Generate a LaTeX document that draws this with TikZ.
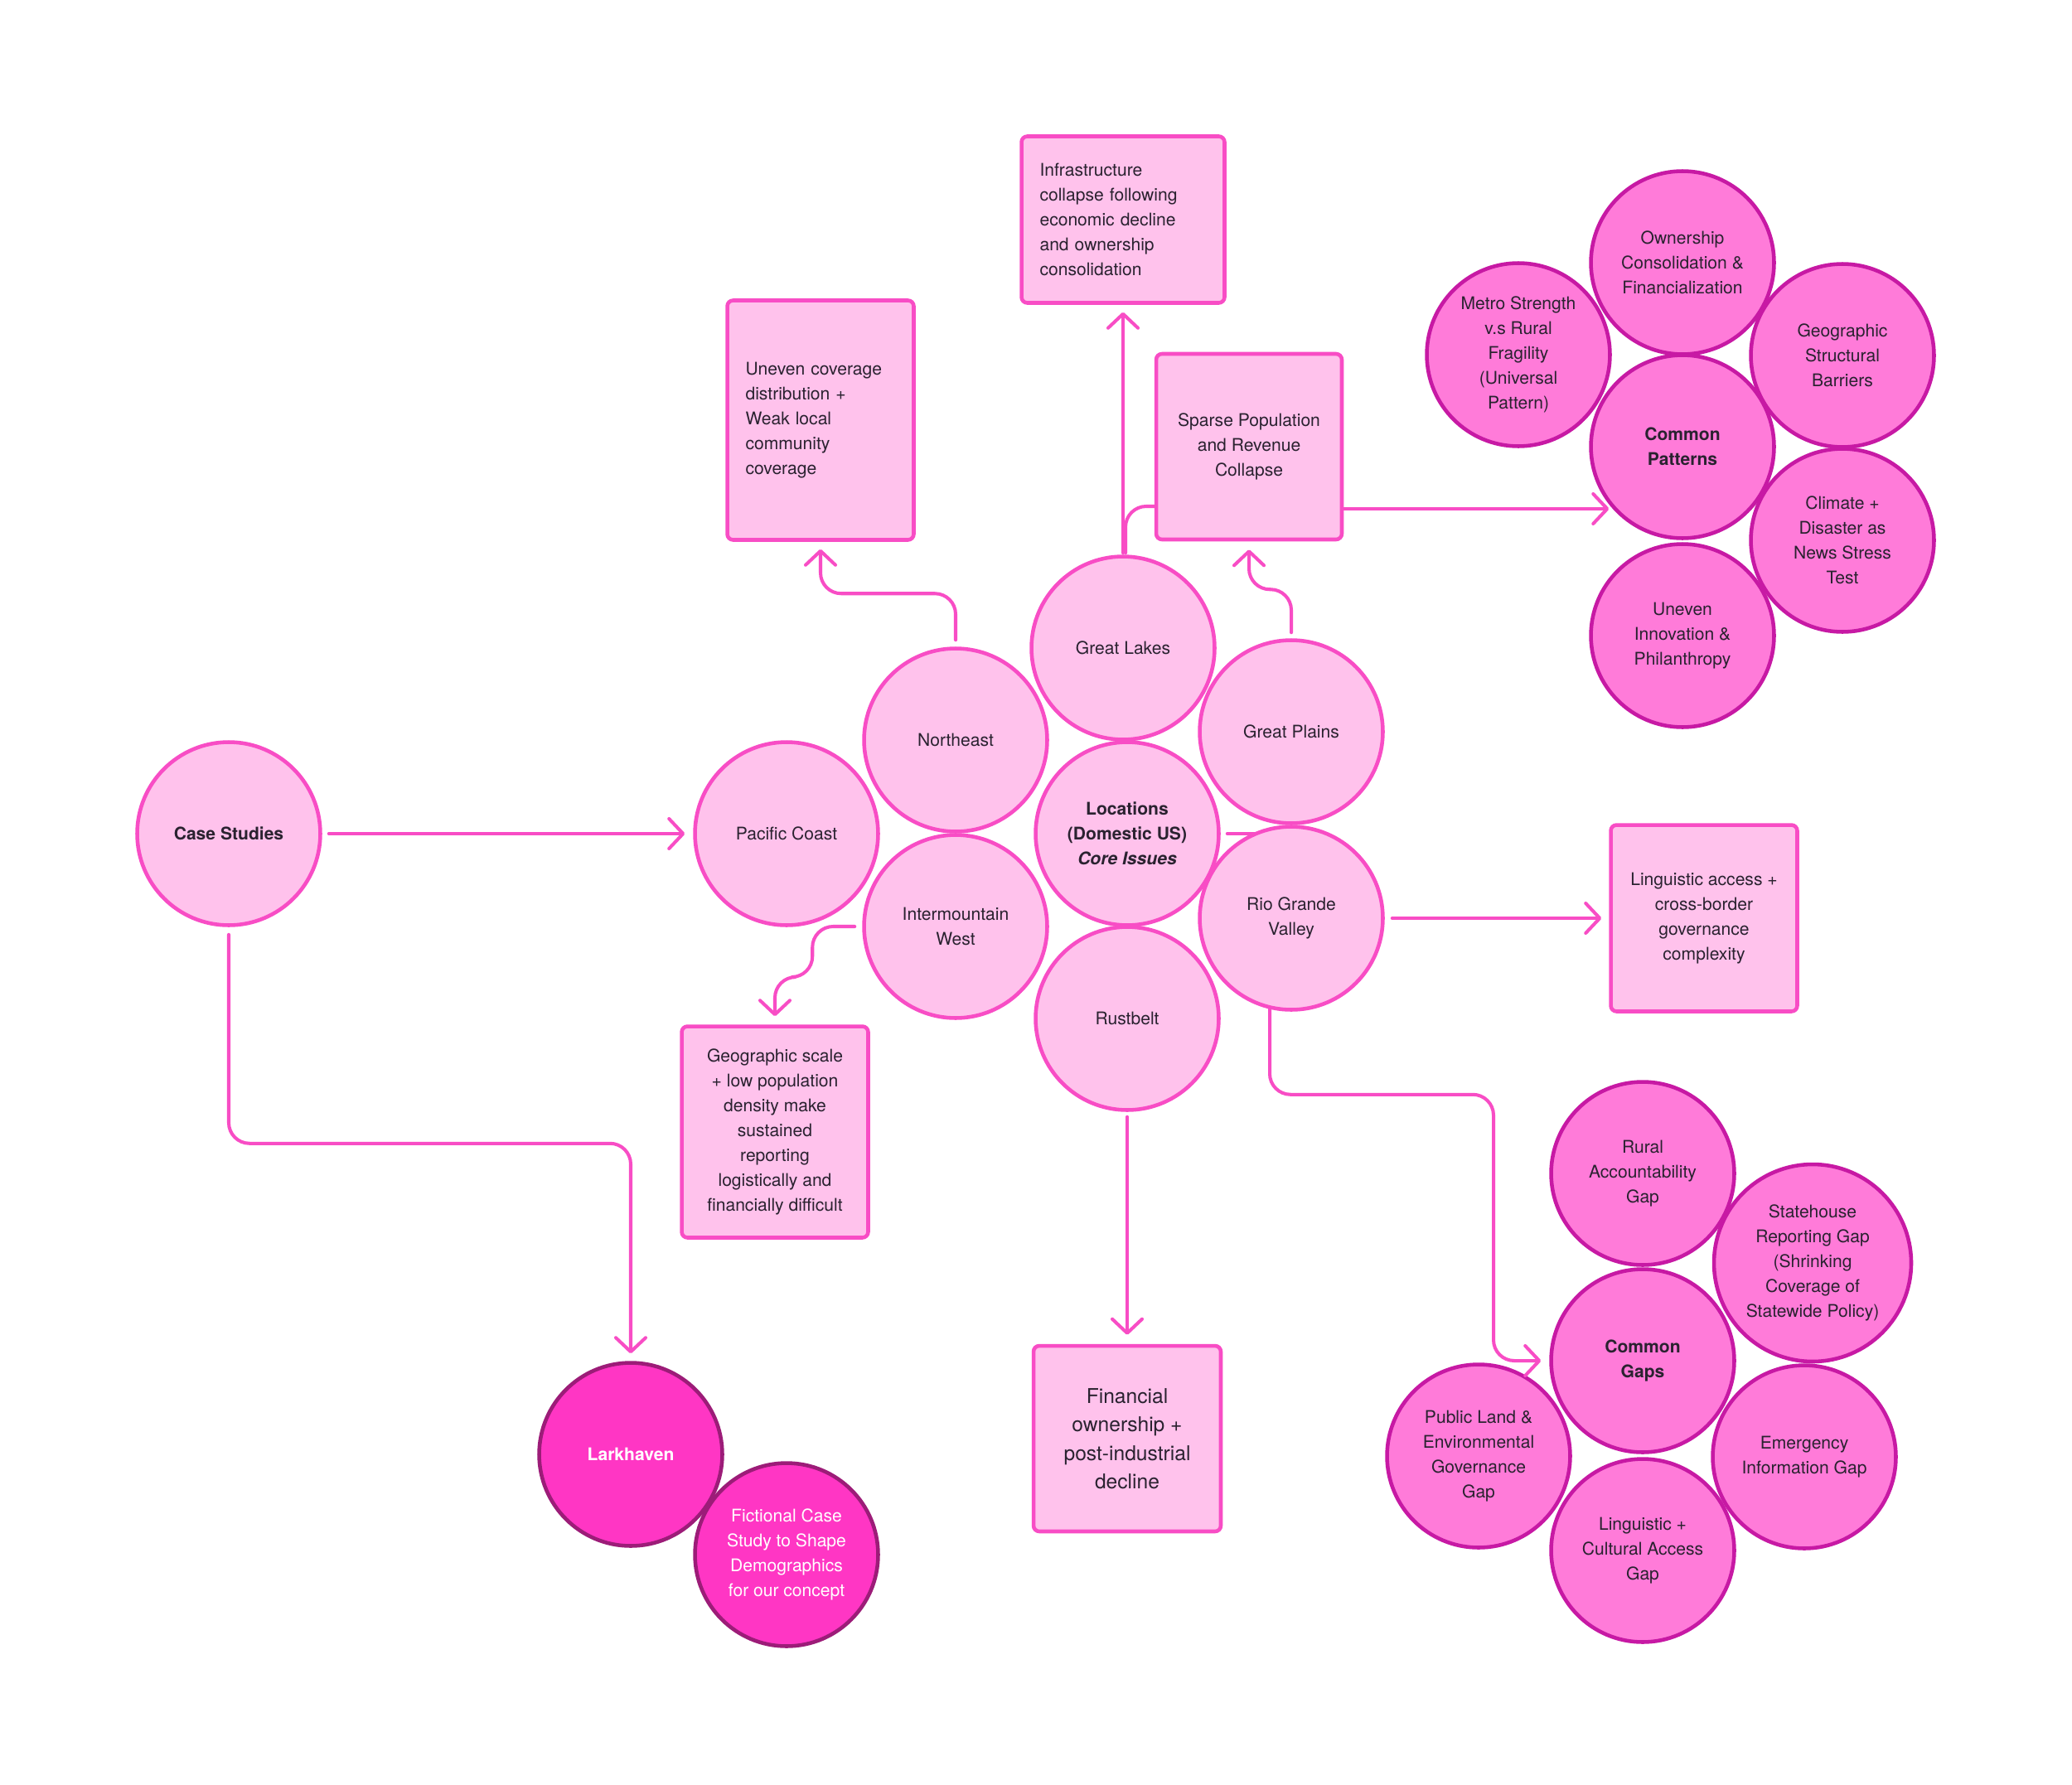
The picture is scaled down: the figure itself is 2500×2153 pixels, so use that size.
\documentclass[tikz,border=0pt]{standalone}
\usepackage{fontspec}
\setmainfont{TeX Gyre Heros}
\usepackage{tikz}
\usetikzlibrary{arrows.meta,backgrounds}
\definecolor{locfill}{HTML}{FFC2EC}
\definecolor{locline}{HTML}{F84DC5}
\definecolor{patfill}{HTML}{FF7BD9}
\definecolor{patline}{HTML}{C719A4}
\definecolor{larkfill}{HTML}{FF36C4}
\definecolor{larkline}{HTML}{9C1C78}
\definecolor{ink}{HTML}{2A2230}
\newcommand{\mapfont}{\fontsize{12}{17}\selectfont}
\newcommand{\finfont}{\fontsize{14}{19.6}\selectfont}
\tikzset{
  loccircle/.style={circle, draw=locline, fill=locfill, line width=2.6pt, minimum size=4.42cm, inner sep=0pt, align=center, text=ink, font=\mapfont},
  patcircle/.style={loccircle, draw=patline, fill=patfill},
  larkcircle/.style={loccircle, draw=larkline, fill=larkfill, text=white},
  notebox/.style={rectangle, rounded corners=0.14cm, draw=locline, fill=locfill, line width=2.6pt, inner sep=0pt, text=ink, font=\mapfont},
  link/.style={draw=locline, line width=2.3pt, line cap=round, line join=round, rounded corners=0.5cm, -{Straight Barb[length=0.34cm, width=0.72cm, line cap=round, line join=round]}},
  plainlink/.style={link, arrows=-}
}
\begin{document}
\begin{tikzpicture}[x=0.02cm, y=-0.02cm]
    \useasboundingbox (0, 0) rectangle (2500, 2153);
    \begin{pgfonlayer}{background}
      \fill [white] (0, 0) rectangle (2500, 2153);
    \end{pgfonlayer}
    \node [loccircle] (cs) at (276, 1006) {\textbf{Case Studies}};
    \node [loccircle] (pac) at (949, 1006) {Pacific Coast};
    \node [loccircle] (ne) at (1153, 893) {Northeast};
    \node [loccircle] (gl) at (1355, 782) {Great Lakes};
    \node [loccircle] (gp) at (1558, 883) {Great Plains};
    \node [loccircle] (imw) at (1153, 1118) {Intermountain\\West};
    \node [loccircle] (rust) at (1360, 1229) {Rustbelt};
    \node [loccircle] (rgv) at (1558, 1108) {Rio Grande\\Valley};
    \node [loccircle] (loc) at (1360, 1006) {\textbf{Locations}\\\textbf{(Domestic US)}\\\textbf{\textit{Core Issues}}};
    \node [notebox, minimum width=4.5cm, minimum height=5.78cm, text width=3.62cm, align=left] (unev) at (990, 507) {Uneven coverage\\distribution +\\Weak local\\community\\coverage};
    \node [notebox, minimum width=4.9cm, minimum height=4.02cm, text width=4.02cm, align=left] (infra) at (1355, 265) {Infrastructure\\collapse following\\economic decline\\and ownership\\consolidation};
    \node [notebox, minimum width=4.48cm, minimum height=4.48cm, align=center] (sparse) at (1507, 539) {Sparse Population\\and Revenue\\Collapse};
    \node [notebox, minimum width=4.5cm, minimum height=5.1cm, align=center] (geoscale) at (935, 1366) {Geographic scale\\+ low population\\density make\\sustained\\reporting\\logistically and\\financially difficult};
    \node [notebox, minimum width=4.5cm, minimum height=4.5cm, align=center] (lingacc) at (2056, 1108) {Linguistic access +\\cross-border\\governance\\complexity};
    \node [notebox, minimum width=4.52cm, minimum height=4.48cm, align=center, font=\finfont] (fin) at (1360, 1736) {Financial\\ownership +\\post-industrial\\decline};
    \node [patcircle] (own) at (2030, 317) {Ownership\\Consolidation \&\\Financialization};
    \node [patcircle] (metro) at (1832, 428) {Metro Strength\\v.s Rural\\Fragility\\(Universal\\Pattern)};
    \node [patcircle] (geo) at (2223, 429) {Geographic\\Structural\\Barriers};
    \node [patcircle] (clim) at (2223, 652) {Climate +\\Disaster as\\News Stress\\Test};
    \node [patcircle] (innov) at (2030, 767) {Uneven\\Innovation \&\\Philanthropy};
    \node [patcircle] (cp) at (2030, 539) {\textbf{Common}\\\textbf{Patterns}};
    \node [patcircle] (rural) at (1982, 1416) {Rural\\Accountability\\Gap};
    \node [patcircle, minimum size=4.76cm] (state) at (2187, 1524) {Statehouse\\Reporting Gap\\(Shrinking\\Coverage of\\Statewide Policy)};
    \node [patcircle] (publand) at (1784, 1757) {Public Land \&\\Environmental\\Governance\\Gap};
    \node [patcircle] (emerg) at (2177, 1758) {Emergency\\Information Gap};
    \node [patcircle] (lingcult) at (1982, 1871) {Linguistic +\\Cultural Access\\Gap};
    \node [patcircle] (cg) at (1982, 1642) {\textbf{Common}\\\textbf{Gaps}};
    \node [larkcircle] (lark) at (761, 1755) {\textbf{Larkhaven}};
    \node [larkcircle] (fict) at (949, 1876) {Fictional Case\\Study to Shape\\Demographics\\for our concept};
    \begin{pgfonlayer}{background}
      \draw [plainlink] ([xshift=0.16cm]loc.east) -- (rgv.center |- loc.east);
    \end{pgfonlayer}
    \draw [link] ([xshift=0.16cm]cs.east) -- ([xshift=-0.2cm]pac.west);
    \draw [link] ([yshift=-0.18cm]cs.south) -- ++(0, 252) -| ([yshift=0.18cm]lark.north);
    \draw [link] ([yshift=0.16cm]ne.north) -- ++(0, -56) -| ([yshift=-0.18cm]unev.south);
    \draw [link] ([yshift=0.04cm]gl.north) -- ([yshift=-0.18cm]infra.south);
    \draw [plainlink] ([xshift=0.06cm, yshift=0.04cm]gl.north) |- ([yshift=-1.44cm]sparse.west);
    \draw [link] ([yshift=0.14cm]gp.north) -- ++(0, -52) -| ([yshift=-0.2cm]sparse.south);
    \draw [link] ([yshift=-1.5cm]sparse.east) -- ++(320, 0);
    \draw [link] ([xshift=-0.18cm]imw.west) -- ++(-51, 0) -- ++(0, 61) -| ([yshift=0.2cm]geoscale.north);
    \draw [link] ([yshift=-0.12cm]rust.south) -- ([yshift=0.22cm]fin.north);
    \draw [link] ([xshift=0.18cm]rgv.east) -- ([xshift=-0.18cm]lingacc.west);
    \draw [link] ([xshift=-0.52cm, yshift=0.06cm]rgv.south) |- ++(270, 103) |- ([xshift=-0.2cm]cg.west);
\end{tikzpicture}
\end{document}
